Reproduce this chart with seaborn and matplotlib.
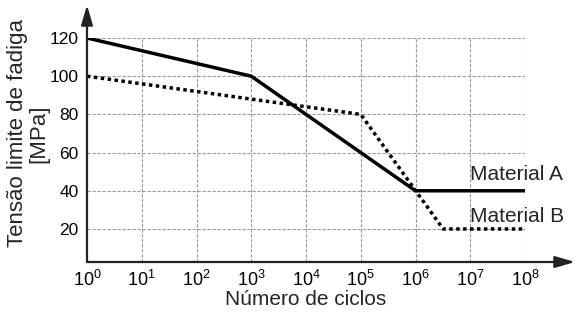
import matplotlib
matplotlib.use("Agg")
import matplotlib.pyplot as plt
import seaborn as sns
import pandas as pd

# Data
ciclos_a = [1, 1e3, 1e6, 1e8]
tensao_a = [120, 100, 40, 40]
ciclos_b = [1, 1e5, 3.2e6, 1e8]
tensao_b = [100, 80, 20, 20]
y_ticks = [20, 40, 60, 80, 100, 120]
x_exps = [0, 1, 2, 3, 4, 5, 6, 7, 8]

sns.set_style("white")
plt.rcParams['font.family'] = ['Liberation Sans', 'DejaVu Sans']
plt.rcParams['mathtext.fontset'] = 'custom'
plt.rcParams['mathtext.rm'] = 'Liberation Sans'
plt.rcParams['mathtext.it'] = 'Liberation Sans'

df = pd.DataFrame({
    "ciclos": ciclos_a + ciclos_b,
    "tensao": tensao_a + tensao_b,
    "material": ["Material A"] * len(ciclos_a) + ["Material B"] * len(ciclos_b),
})

fig = plt.figure(figsize=(5.8, 3.14), dpi=100)
ax = fig.add_axes([87/580, 1-262/314, (525-87)/580, (262-38)/314])

sns.lineplot(data=df, x="ciclos", y="tensao", style="material",
             dashes={"Material A": "", "Material B": (1, 1)},
             color="black", linewidth=2.5, legend=False, ax=ax, sort=False)
ax.set_xscale("log")
ax.set_xlim(1, 1e8)
ax.set_ylim(2.7, 120)

# grid
for e in x_exps[1:]:
    ax.plot([10**e, 10**e], [2.7, 120], color="#999999", lw=0.8, ls=(0, (3, 1.5)), zorder=0)
for v in y_ticks:
    ax.plot([1, 1e8], [v, v], color="#999999", lw=0.8, ls=(0, (3, 1.5)), zorder=0)

ax.set_xticks([10**e for e in x_exps])
ax.set_xticklabels([r"$\mathregular{10^{%d}}$" % e for e in x_exps], fontsize=13)
ax.set_yticks(y_ticks)
ax.set_yticklabels([str(v) for v in y_ticks], fontsize=12.5)
ax.minorticks_off()
ax.tick_params(axis="x", length=0, pad=6, colors="black")
ax.tick_params(axis="y", length=0, pad=6, colors="black")

for s in ax.spines.values():
    s.set_visible(False)

# axes arrows
ax.annotate("", xy=(1 + 50/438, 0), xytext=(0, 0), xycoords="axes fraction",
            textcoords="axes fraction",
            arrowprops=dict(arrowstyle="-|>,head_length=1.2,head_width=0.35",
                            color="#222222", lw=1.6, shrinkA=0, shrinkB=0),
            annotation_clip=False)
ax.annotate("", xy=(0, 1 + 33/224), xytext=(0, 0), xycoords="axes fraction",
            textcoords="axes fraction",
            arrowprops=dict(arrowstyle="-|>,head_length=1.2,head_width=0.35",
                            color="#222222", lw=1.6, shrinkA=0, shrinkB=0),
            annotation_clip=False)

ax.text(10**7.0, 48.5, "Material A", fontsize=15, ha="left", va="center")
ax.text(10**7.0, 26.3, "Material B", fontsize=15, ha="left", va="center")

ax.set_xlabel("Número de ciclos", fontsize=15, labelpad=0)
ax.set_ylabel("Tensão limite de fadiga\n[MPa]", fontsize=16, linespacing=1.05)
ax.yaxis.set_label_coords(-0.085, 0.574)

fig.savefig("out.png", dpi=100)
